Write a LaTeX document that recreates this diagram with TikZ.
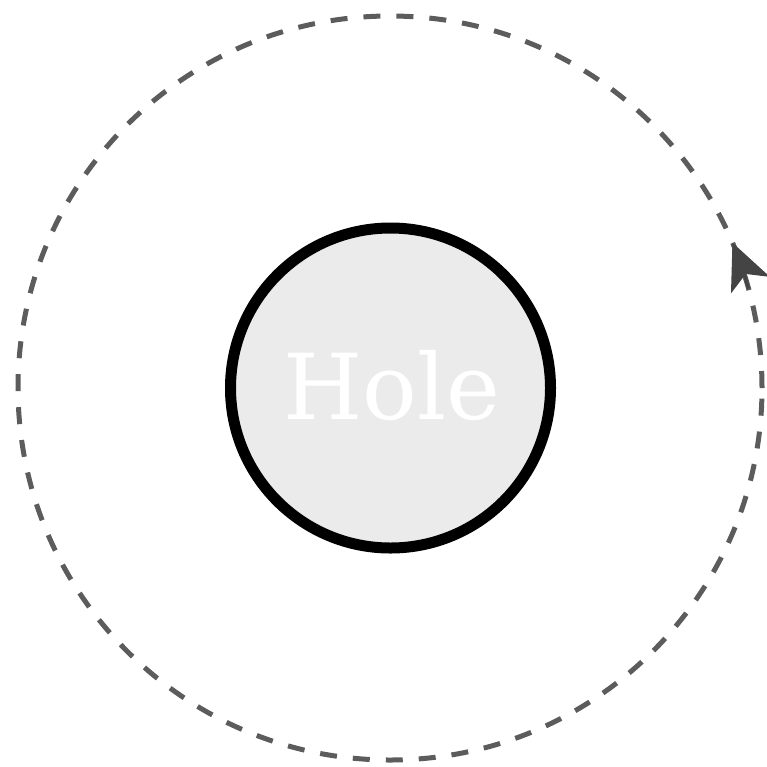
\documentclass[tikz,border=0pt]{standalone}
\usepackage{fontspec}
\newfontfamily\holefont{DejaVu Serif}
\usetikzlibrary{arrows.meta}
\definecolor{orbit}{HTML}{5C5C5C}
\definecolor{tipc}{HTML}{444444}
\definecolor{holefill}{HTML}{EBEBEB}
\tikzset{
  orbitline/.style={draw=orbit, line width=5pt, dash pattern=on 17pt off 16pt},
  holebox/.style={circle, draw=black, line width=11pt, fill=holefill, minimum size=320pt, inner sep=0pt},
  holelabel/.style={font=\holefont\fontsize{91}{91}\selectfont, text=white, inner sep=0pt},
  tipline/.style={draw=tipc, line width=3pt, -{Stealth[length=46pt,width=42pt,inset=12pt]}}
}
\begin{document}
\begin{tikzpicture}[x=1pt,y=1pt]
\useasboundingbox (0,0) rectangle (767,-766);
\coordinate (c) at (390,-388);
\draw[orbitline] (c) circle[radius=372pt];
\node[holebox] (hole) at (390.5,-388) {};
\node[holelabel] (holetext) at (392,-386) {Hole};
\draw[tipline] (c) ++(15.5:372pt) arc[start angle=15.5, end angle=23, radius=372pt];
\end{tikzpicture}
\end{document}
